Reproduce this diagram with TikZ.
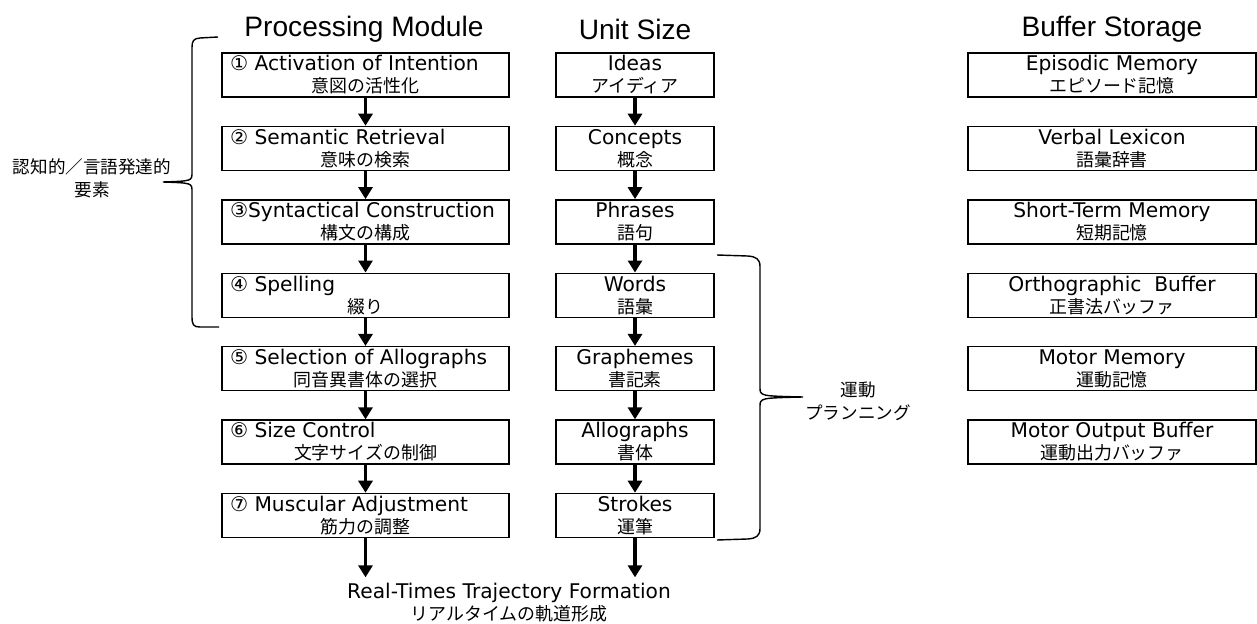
\documentclass[tikz,border=0pt]{standalone}
\usepackage{fontspec}
\newfontfamily\jp{Noto Sans CJK JP}
\newfontfamily\dv{DejaVu Sans}
\newfontfamily\hd{Liberation Sans}
\usetikzlibrary{arrows.meta, positioning}

\newcommand{\ja}[1]{{\jp\fontsize{10.2}{12.5}\selectfont #1}}
\newcommand{\proctext}[2]{\makebox[5.42cm][l]{#1}\\\ja{#2}}

\begin{document}
\begin{tikzpicture}[
		procbox/.style={
			rectangle,
			draw,
			line width=0.8pt,
			minimum width=5.74cm,
			minimum height=0.88cm,
			inner sep=0pt,
			align=center,
			font=\dv\fontsize{11.5}{12.5}\selectfont
		},
		unitbox/.style={
			procbox,
			minimum width=3.16cm
		},
		bufbox/.style={
			procbox,
			minimum width=5.76cm
		},
		head/.style={
			font=\hd\fontsize{16}{18}\selectfont
		},
		lbl/.style={
			align=center,
			font=\dv\fontsize{11.5}{12.5}\selectfont
		},
		jlbl/.style={
			align=center,
			font=\jp\fontsize{10}{13}\selectfont
		},
		arrow/.style={
			-{Triangle[width=0.28cm, length=0.24cm]},
			line width=2.2pt
		},
		brc/.style={
			line width=0.8pt
		}
		]
		
		\useasboundingbox (0,0) rectangle (25.14,-12.48);
		
		% Column headers
		\node (hproc) [head] at (7.28,-0.58) {Processing Module};
		\node (hunit) [head] at (12.7,-0.58) {Unit Size};
		\node (hbuf) [head] at (22.24,-0.58) {Buffer Storage};
		
		% Processing module
		\node (intent) [procbox] at (7.31,-1.5) {\proctext{① Activation of Intention}{意図の活性化}};
		\node (semantic) [procbox, below=0.56cm of intent] {\proctext{② Semantic Retrieval}{意味の検索}};
		\node (syntax) [procbox, below=0.56cm of semantic] {\proctext{③Syntactical Construction}{構文の構成}};
		\node (spelling) [procbox, below=0.56cm of syntax] {\proctext{④ Spelling}{綴り}};
		\node (selection) [procbox, below=0.56cm of spelling] {\proctext{⑤ Selection of Allographs}{同音異書体の選択}};
		\node (sizectl) [procbox, below=0.56cm of selection] {\proctext{⑥ Size Control}{文字サイズの制御}};
		\node (muscle) [procbox, below=0.56cm of sizectl] {\proctext{⑦ Muscular Adjustment}{筋力の調整}};
		
		% Unit size
		\node (ideas) [unitbox] at (12.7,-1.5) {Ideas\\\ja{アイディア}};
		\node (concepts) [unitbox, below=0.56cm of ideas] {Concepts\\\ja{概念}};
		\node (phrases) [unitbox, below=0.56cm of concepts] {Phrases\\\ja{語句}};
		\node (words) [unitbox, below=0.56cm of phrases] {Words\\\ja{語彙}};
		\node (graphemes) [unitbox, below=0.56cm of words] {Graphemes\\\ja{書記素}};
		\node (allographs) [unitbox, below=0.56cm of graphemes] {Allographs\\\ja{書体}};
		\node (strokes) [unitbox, below=0.56cm of allographs] {Strokes\\\ja{運筆}};
		
		% Buffer storage
		\node (episodic) [bufbox] at (22.24,-1.5) {Episodic Memory\\\ja{エピソード記憶}};
		\node (lexicon) [bufbox, below=0.56cm of episodic] {Verbal Lexicon\\\ja{語彙辞書}};
		\node (stm) [bufbox, below=0.56cm of lexicon] {Short-Term Memory\\\ja{短期記憶}};
		\node (ortho) [bufbox, below=0.56cm of stm] {Orthographic\ \ Buffer\\\ja{正書法バッファ}};
		\node (motormem) [bufbox, below=0.56cm of ortho] {Motor Memory\\\ja{運動記憶}};
		\node (motorout) [bufbox, below=0.56cm of motormem] {Motor Output Buffer\\\ja{運動出力バッファ}};
		
		% Output and side labels
		\node (rtf) [lbl] at (10.18,-12.06) {Real-Times Trajectory Formation\\\ja{リアルタイムの軌道形成}};
		\node (cogn) [jlbl] at (1.84,-3.57) {認知的／言語発達的\\要素};
		\node (motor) [jlbl] at (17.16,-8.02) {運動\\プランニング};
		
		% Arrows
		\foreach \a/\b in {intent/semantic, semantic/syntax, syntax/spelling, spelling/selection, selection/sizectl, sizectl/muscle, ideas/concepts, concepts/phrases, phrases/words, words/graphemes, graphemes/allographs, allographs/strokes}
		\draw [arrow] (\a) -- (\b);
		\draw [arrow] (muscle) -- (muscle |- rtf.north);
		\draw [arrow] (strokes) -- (strokes |- rtf.north);
		
		% Braces
		\draw [brc] (4.36,-0.74) -- (4.0,-0.76) .. controls (3.87,-0.77) and (3.84,-0.82) .. (3.84,-0.95) -- (3.84,-3.45) .. controls (3.84,-3.62) .. (3.26,-3.64) .. controls (3.84,-3.66) .. (3.84,-3.83) -- (3.84,-6.33) .. controls (3.84,-6.5) and (3.87,-6.54) .. (4.0,-6.54) -- (4.38,-6.54);
		\draw [brc] (14.34,-5.10) -- (14.95,-5.12) .. controls (15.12,-5.13) and (15.2,-5.18) .. (15.2,-5.33) -- (15.2,-7.75) .. controls (15.2,-7.92) .. (16.06,-7.94) .. controls (15.2,-7.96) .. (15.2,-8.13) -- (15.2,-10.57) .. controls (15.2,-10.72) and (15.12,-10.77) .. (14.95,-10.78) -- (14.34,-10.8);
		
	\end{tikzpicture}
\end{document}
